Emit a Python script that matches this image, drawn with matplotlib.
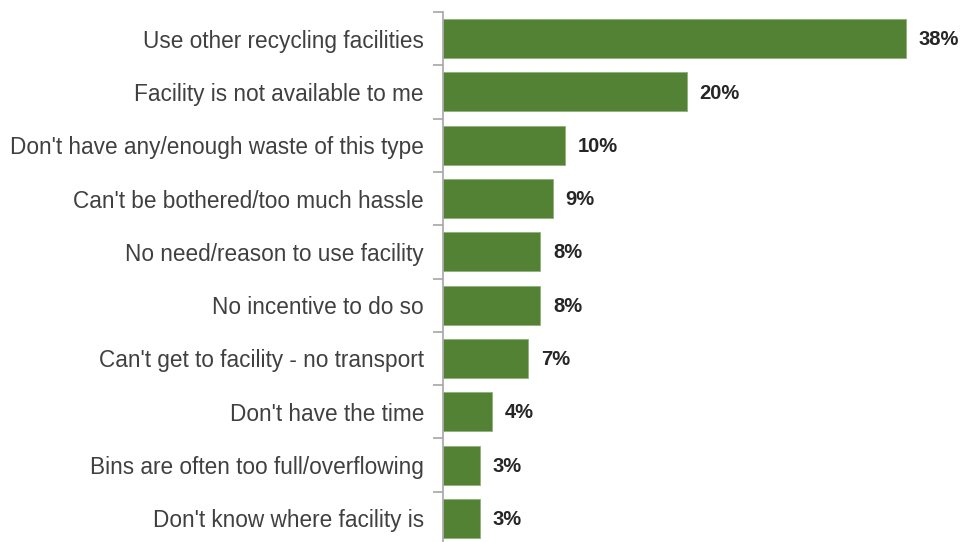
import matplotlib
matplotlib.use("Agg")
import matplotlib.pyplot as plt

categories = [
    "Use other recycling facilities",
    "Facility is not available to me",
    "Don't have any/enough waste of this type",
    "Can't be bothered/too much hassle",
    "No need/reason to use facility",
    "No incentive to do so",
    "Can't get to facility - no transport",
    "Don't have the time",
    "Bins are often too full/overflowing",
    "Don't know where facility is",
]
values = [38, 20, 10, 9, 8, 8, 7, 4, 3, 3]

W, H = 963, 542
fig = plt.figure(figsize=(W / 100, H / 100), dpi=100)
left_px, top_px, bottom_px = 443, 12, 545
px_per_unit = 12.18
xmax = 40
ax = fig.add_axes([left_px / W, 1 - bottom_px / H,
                   xmax * px_per_unit / W, (bottom_px - top_px) / H])

bar_color = "#548235"
ypos = list(range(len(categories)))
ax.barh(ypos, values, height=0.73, color=bar_color,
        edgecolor="#8fb07a", linewidth=0.6)

ax.set_xlim(0, xmax)
ax.set_ylim(len(categories) - 0.5, -0.5)

for y, v in zip(ypos, values):
    ax.text(v + 1.05, y + 0.02, f"{v}%", va="center", ha="left",
            fontsize=14.5, fontweight="bold", color="#262626",
            family="Liberation Sans")

# category labels placed at bar centres; tick marks at category boundaries
ax.set_yticks(ypos)
ax.set_yticklabels(categories, fontsize=16.3, color="#404040",
                   family="Liberation Sans")
ax.tick_params(axis="y", which="major", length=0, pad=13.7)
ax.set_yticks([i - 0.5 for i in range(len(categories) + 1)], minor=True)
ax.tick_params(axis="y", which="minor", length=7, width=1.2,
               color="#a6a6a6", direction="out")

ax.set_xticks([])
for side in ("top", "right", "bottom"):
    ax.spines[side].set_visible(False)
ax.spines["left"].set_color("#a6a6a6")
ax.spines["left"].set_linewidth(1.2)

fig.savefig("out.png", dpi=100, facecolor="white")
